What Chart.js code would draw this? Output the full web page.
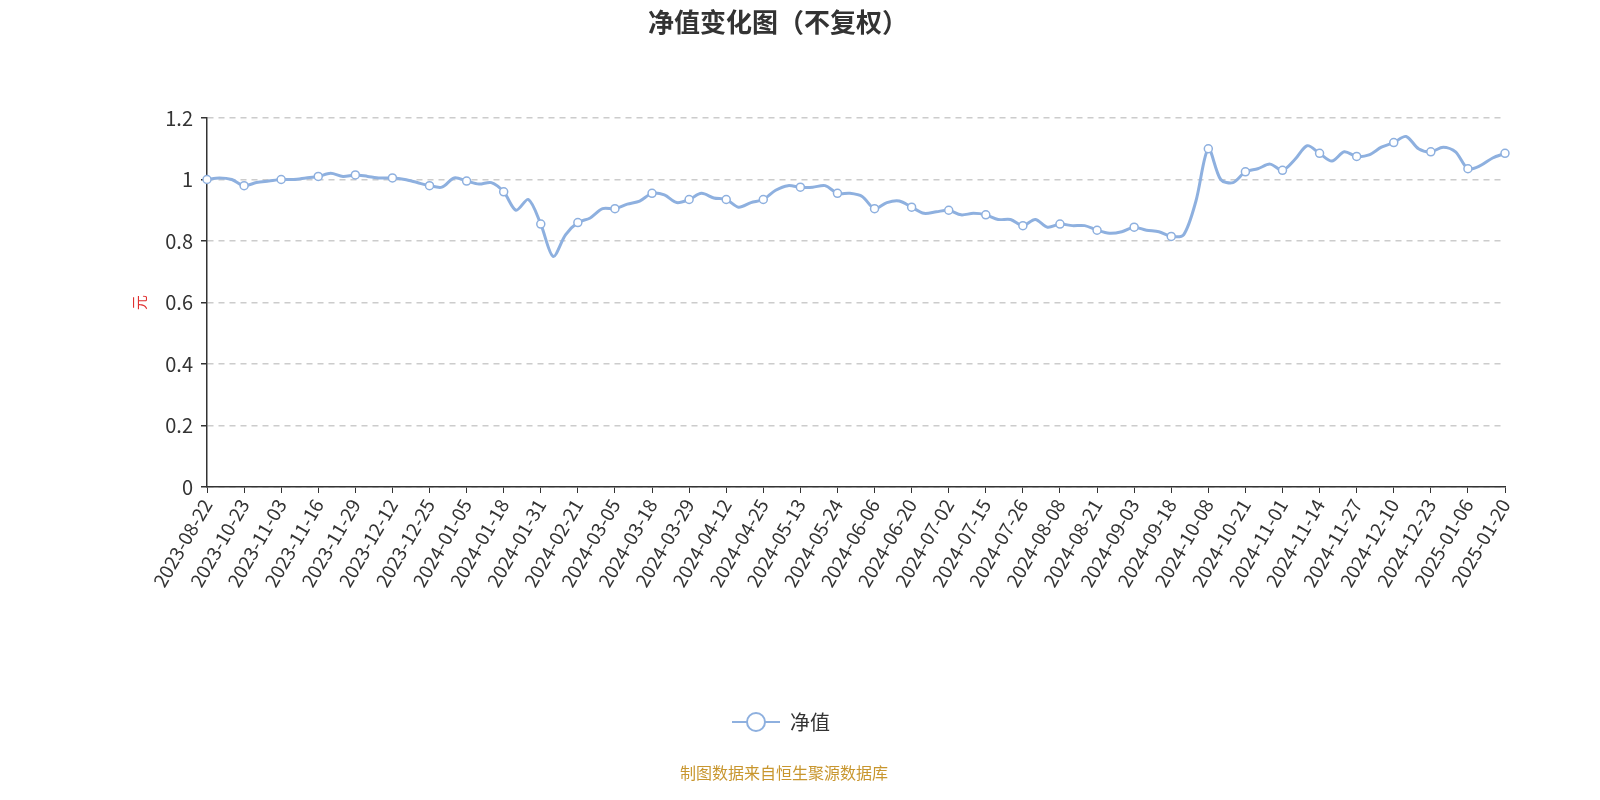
<!DOCTYPE html>
<html><head><meta charset="utf-8">
<script src="https://cdn.jsdelivr.net/npm/chart.js@4"></script>
<style>html,body{margin:0;padding:0;background:#fff;overflow:hidden}canvas{display:block}</style>
</head><body><canvas id="c" width="1600" height="800" style="width:1600px;height:800px"></canvas>
<script>
const tickLabels = ["2023-08-22","2023-10-23","2023-11-03","2023-11-16","2023-11-29","2023-12-12","2023-12-25","2024-01-05","2024-01-18","2024-01-31","2024-02-21","2024-03-05","2024-03-18","2024-03-29","2024-04-12","2024-04-25","2024-05-13","2024-05-24","2024-06-06","2024-06-20","2024-07-02","2024-07-15","2024-07-26","2024-08-08","2024-08-21","2024-09-03","2024-09-18","2024-10-08","2024-10-21","2024-11-01","2024-11-14","2024-11-27","2024-12-10","2024-12-23","2025-01-06","2025-01-20"];
const navValues = [
1.00,1.005,1.00, 0.98,0.99,0.995, 1.00,1.00,1.005, 1.01,1.02,1.01, 1.015,1.01,1.005,
1.005,1.00,0.99, 0.98,0.975,1.005, 0.995,0.985,0.99, 0.96,0.90,0.935, 0.855,0.75,0.82,
0.86,0.875,0.905, 0.905,0.92,0.93, 0.955,0.95,0.925, 0.935,0.955,0.94, 0.935,0.91,0.925,
0.935,0.965,0.98, 0.975,0.975,0.98, 0.955,0.955,0.945, 0.905,0.925,0.93, 0.91,0.89,0.895,
0.90,0.885,0.89, 0.885,0.87,0.87, 0.85,0.87,0.845, 0.855,0.85,0.85, 0.835,0.825,0.83,
0.845,0.835,0.83, 0.815,0.82,0.93, 1.10,1.00,0.99, 1.025,1.035,1.05, 1.03,1.065,1.11,
1.085,1.06,1.09, 1.075,1.08,1.105, 1.12,1.14,1.10, 1.09,1.105,1.09, 1.035,1.045,1.07, 1.085];
const categories = navValues.map((v,i)=> i%3===0 ? tickLabels[i/3] : '');
const seriesName = '净值';
const color = '#8eb0df';

const deco = {id:'deco', afterDraw(ch){
  const c=ch.ctx; c.save();
  c.fillStyle='#333'; c.font='bold 26px "Noto Sans CJK SC"'; c.textAlign='center'; c.textBaseline='middle';
  c.fillText('净值变化图（不复权）',778,22);
  c.strokeStyle=color; c.lineWidth=2; c.beginPath(); c.moveTo(732,722); c.lineTo(780,722); c.stroke();
  c.fillStyle='#fff'; c.beginPath(); c.arc(756,722,9,0,Math.PI*2); c.fill(); c.stroke();
  c.fillStyle='#333'; c.font='20px "Noto Sans CJK SC"'; c.textAlign='left'; c.fillText(seriesName,790,722);
  c.fillStyle='#c8962e'; c.font='16px "Noto Sans CJK SC"'; c.textAlign='center'; c.fillText('制图数据来自恒生聚源数据库',784,773);
  c.restore();
}};

new Chart(document.getElementById('c'),{
  type:'line',
  data:{labels:categories,datasets:[{label:seriesName,data:navValues,borderColor:color,borderWidth:3,tension:0.3,
    pointRadius:ctx=>(ctx.dataIndex%3===0)?4:0, pointBackgroundColor:'#fff',pointBorderColor:color,pointBorderWidth:1.5}]},
  options:{responsive:false,devicePixelRatio:1,animation:false,
    layout:{padding:{left:130,right:95,top:118,bottom:0}},
    plugins:{legend:{display:false},tooltip:{enabled:false}},
    scales:{
      x:{offset:false,afterFit(s){s.height=313;},
        grid:{drawOnChartArea:false,tickLength:6,color:ctx=>(ctx.index%3===0)?'#333':'transparent'},
        border:{color:'#333',width:1.5},
        ticks:{autoSkip:false,maxRotation:60,minRotation:60,color:'#333',font:{size:19,family:'"Noto Sans CJK SC"'},padding:2}},
      y:{min:0,max:1.2,afterFit(s){s.width=77;},
        ticks:{stepSize:0.2,color:'#333',font:{size:20,family:'"Noto Sans CJK SC"'},padding:8,
          callback:v=>String(Math.round(v*10)/10)},
        grid:{color:'#ccc',lineWidth:1.5,tickLength:6,drawTicks:true,tickColor:'#333'},
        border:{color:'#333',width:1.5,dash:[6,5]},
        title:{display:true,text:'元',color:'#e03030',font:{size:15,family:'"Noto Sans CJK SC"'},padding:0}}
    }},
  plugins:[deco]
});
</script></body></html>
